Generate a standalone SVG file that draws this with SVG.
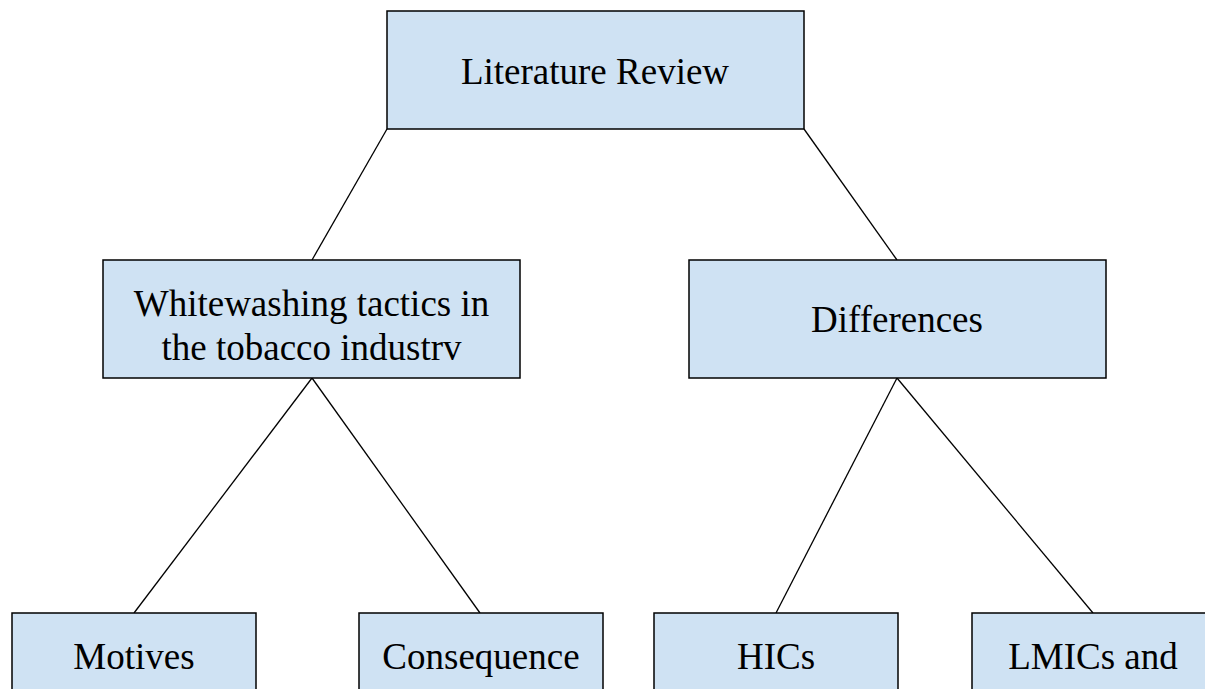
<svg xmlns="http://www.w3.org/2000/svg" width="1205" height="689" viewBox="0 0 1205 689">
<style>
.box{fill:#cfe2f3;stroke:#000;stroke-width:1.5}
.lbl{font-family:"Liberation Serif","Times New Roman",serif;font-size:37px;fill:#000;text-anchor:middle}
.con line{stroke:#000;stroke-width:1.3}
</style>
<rect width="1205" height="689" fill="#fff"/>
<g class="con" id="connectors">
<line x1="387" y1="129" x2="312" y2="260"/>
<line x1="804" y1="129" x2="897" y2="260"/>
<line x1="312" y1="378" x2="134" y2="613"/>
<line x1="312" y1="378" x2="480" y2="613"/>
<line x1="897" y1="378" x2="776" y2="613"/>
<line x1="897" y1="378" x2="1093" y2="613"/>
</g>
<g id="literature-review">
<rect class="box" x="387" y="11" width="417" height="118"/>
<text class="lbl" x="595" y="84">Literature Review</text>
</g>
<g id="whitewashing">
<rect class="box" x="103" y="260" width="417" height="118"/>
<text class="lbl" x="311.5" y="316">Whitewashing tactics in</text>
<text class="lbl" x="311.5" y="360">the tobacco industrv</text>
</g>
<g id="differences">
<rect class="box" x="689" y="260" width="417" height="118"/>
<text class="lbl" x="897" y="332">Differences</text>
</g>
<g id="motives">
<rect class="box" x="12" y="613" width="244" height="118"/>
<text class="lbl" x="134" y="669">Motives</text>
</g>
<g id="consequence">
<rect class="box" x="359" y="613" width="244" height="118"/>
<text class="lbl" x="481" y="669">Consequence</text>
</g>
<g id="hics">
<rect class="box" x="654" y="613" width="244" height="118"/>
<text class="lbl" x="776" y="669">HICs</text>
</g>
<g id="lmics">
<rect class="box" x="972" y="613" width="244" height="118"/>
<text class="lbl" x="1093" y="669">LMICs and</text>
</g>
</svg>
